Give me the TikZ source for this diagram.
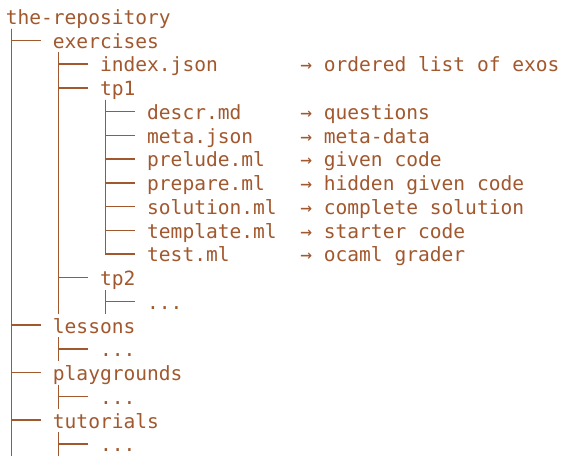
\documentclass[tikz,border=0pt]{standalone}
\usepackage{fontspec}
\newfontfamily\treemono{DejaVu Sans Mono}
\usetikzlibrary{calc}
\definecolor{treebrown}{RGB}{162,88,46}
\tikzset{
  txt/.style={anchor=base west, inner sep=0pt, outer sep=0pt, text=treebrown,
    font=\treemono\fontsize{19.57}{23.74}\selectfont},
  tree/.style={draw=treebrown, line width=1.5pt, line cap=butt}
}
% branch: vertical bar under parent's first char, then horizontal to child
\newcommand\treebranch[2]{%
  \draw[tree] ($(#1.base west)+(5.6pt,-4.2pt)$) |- ($(#2.base west)+(-11.78pt,7.9pt)$);}
% trunk: bar under parent down to the bottom of a later line
\newcommand\treetrunk[2]{%
  \draw[tree] let \p1=(#1.base west), \p2=(#2.base west) in
    (\x1+5.6pt,\y1-4.2pt) -- (\x1+5.6pt,\y2-4.2pt);}
\begin{document}
\begin{tikzpicture}[x=1pt,y=-1pt]
\useasboundingbox[fill=white] (0,0) rectangle (564,455);
% columns 0 / 4 / 8 / 12 / 25 : 5.8 / 52.92 / 100.04 / 147.16 / 300.3
\node[txt] (root)    at (5.8,24.5)      {the-repository};
\node[txt] (ex)      at (52.92,48.24)   {exercises};
\node[txt] (idx)     at (100.04,71.98)  {index.json};
\node[txt] (tp1)     at (100.04,95.72)  {tp1};
\node[txt] (descr)   at (147.16,119.46) {descr.md};
\node[txt] (meta)    at (147.16,143.2)  {meta.json};
\node[txt] (prelude) at (147.16,166.94) {prelude.ml};
\node[txt] (prepare) at (147.16,190.68) {prepare.ml};
\node[txt] (sol)     at (147.16,214.42) {solution.ml};
\node[txt] (tmpl)    at (147.16,238.16) {template.ml};
\node[txt] (test)    at (147.16,261.9)  {test.ml};
\node[txt] (tp2)     at (100.04,285.64) {tp2};
\node[txt] (dtwo)    at (147.16,309.38) {...};
\node[txt] (less)    at (52.92,333.12)  {lessons};
\node[txt] (dless)   at (100.04,356.86) {...};
\node[txt] (play)    at (52.92,380.6)   {playgrounds};
\node[txt] (dplay)   at (100.04,404.34) {...};
\node[txt] (tut)     at (52.92,428.08)  {tutorials};
\node[txt] (dtut)    at (100.04,451.82) {...};
% annotations
\node[txt] (aidx)     at (300.3,71.98)  {→ ordered list of exos};
\node[txt] (adescr)   at (300.3,119.46) {→ questions};
\node[txt] (ameta)    at (300.3,143.2)  {→ meta-data};
\node[txt] (aprelude) at (300.3,166.94) {→ given code};
\node[txt] (aprepare) at (300.3,190.68) {→ hidden given code};
\node[txt] (asol)     at (300.3,214.42) {→ complete solution};
\node[txt] (atmpl)    at (300.3,238.16) {→ starter code};
\node[txt] (atest)    at (300.3,261.9)  {→ ocaml grader};
% trunks
\treetrunk{root}{dtut}
\treetrunk{ex}{dtwo}
\treetrunk{tp2}{dtwo}
\treetrunk{less}{dless}
\treetrunk{play}{dplay}
\treetrunk{tut}{dtut}
% branches
\foreach \c in {ex,less,play,tut} {\treebranch{root}{\c}}
\foreach \c in {idx,tp1,tp2} {\treebranch{ex}{\c}}
\foreach \c in {descr,meta,prelude,prepare,sol,tmpl,test} {\treebranch{tp1}{\c}}
\treebranch{tp2}{dtwo}
\treebranch{less}{dless}
\treebranch{play}{dplay}
\treebranch{tut}{dtut}
\end{tikzpicture}
\end{document}
